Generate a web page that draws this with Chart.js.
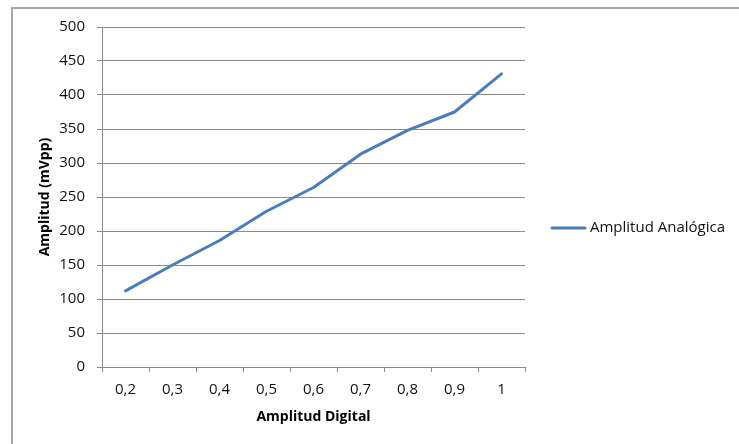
<!DOCTYPE html>
<html>
<head>
<meta charset="utf-8">
<script src="https://cdn.jsdelivr.net/npm/chart.js@4/dist/chart.umd.min.js"></script>
<style>
    body { margin: 0; background: #fff; overflow: hidden; }
    #marco { position: absolute; left: 11px; top: 7px; width: 900px; height: 600px; border: 2px solid #a6a6a6; box-sizing: border-box; }
    #grafico { position: absolute; left: 0; top: 0; }
</style>
</head>
<body>
<div id="marco"></div>
<canvas id="grafico" width="739" height="444"></canvas>
<script>
// datos de la medicion
var categorias = ['0,2', '0,3', '0,4', '0,5', '0,6', '0,7', '0,8', '0,9', '1'];
var amplitudAnalogica = [112, 150, 186, 229, 264, 313, 348, 375, 431];
var nombreSerie = 'Amplitud Analógica';
var tituloX = 'Amplitud Digital';
var tituloY = 'Amplitud (mVpp)';

var fuente = '"Open Sans", sans-serif';
var gris = '#8a8a8a';
var texto = '#111';

// leyenda dibujada a mano a la derecha del area
var leyendaPlugin = {
    id: 'leyenda',
    afterDraw: function(chart){
        var ctx = chart.ctx;
        var ds = chart.data.datasets[0];
        var x = chart.chartArea.right + 27;
        var y = 228;
        ctx.save();
        ctx.strokeStyle = ds.borderColor;
        ctx.lineWidth = 3;
        ctx.lineCap = 'round';
        ctx.beginPath();
        ctx.moveTo(x, y);
        ctx.lineTo(x + 33, y);
        ctx.stroke();
        ctx.fillStyle = texto;
        ctx.font = '15px ' + fuente;
        ctx.textBaseline = 'middle';
        ctx.fillText(ds.label, x + 38, y);
        ctx.restore();
    }
};

new Chart(document.getElementById('grafico'), {
    type: 'line',
    data: {
        labels: categorias,
        datasets: [
            {
                label: nombreSerie,
                data: amplitudAnalogica,
                borderColor: '#4a7ebb',
                borderWidth: 3,
                borderCapStyle: 'round',
                borderJoinStyle: 'round',
                pointRadius: 0,
                tension: 0,
                fill: false
            }
        ]
    },
    options: {
        responsive: false,
        animation: false,
        layout: {
            padding: { left: 0, top: 27, right: 214, bottom: 0 }
        },
        plugins: {
            legend: { display: false },
            tooltip: { enabled: false }
        },
        scales: {
            x: {
                offset: true,
                grid: { offset: true, drawOnChartArea: false, tickLength: 5, color: gris },
                border: { color: gris },
                ticks: { color: texto, padding: 9, font: { family: fuente, size: 15 } },
                title: {
                    display: true,
                    text: tituloX,
                    color: '#000',
                    padding: { top: 0, bottom: 19 },
                    font: { family: fuente, size: 14, weight: 'bold' }
                },
                afterFit: function(scale){
                    scale.height = 77;
                }
            },
            y: {
                min: 0,
                max: 500,
                ticks: { stepSize: 50, color: texto, padding: 12, font: { family: fuente, size: 15 } },
                grid: { color: gris, tickLength: 5 },
                border: { color: gris },
                title: {
                    display: true,
                    text: tituloY,
                    color: '#000',
                    padding: { top: 37, bottom: 0 },
                    font: { family: fuente, size: 14, weight: 'bold' }
                },
                afterFit: function(scale){
                    scale.width = 102;
                }
            }
        }
    },
    plugins: [leyendaPlugin]
});
</script>
</body>
</html>
